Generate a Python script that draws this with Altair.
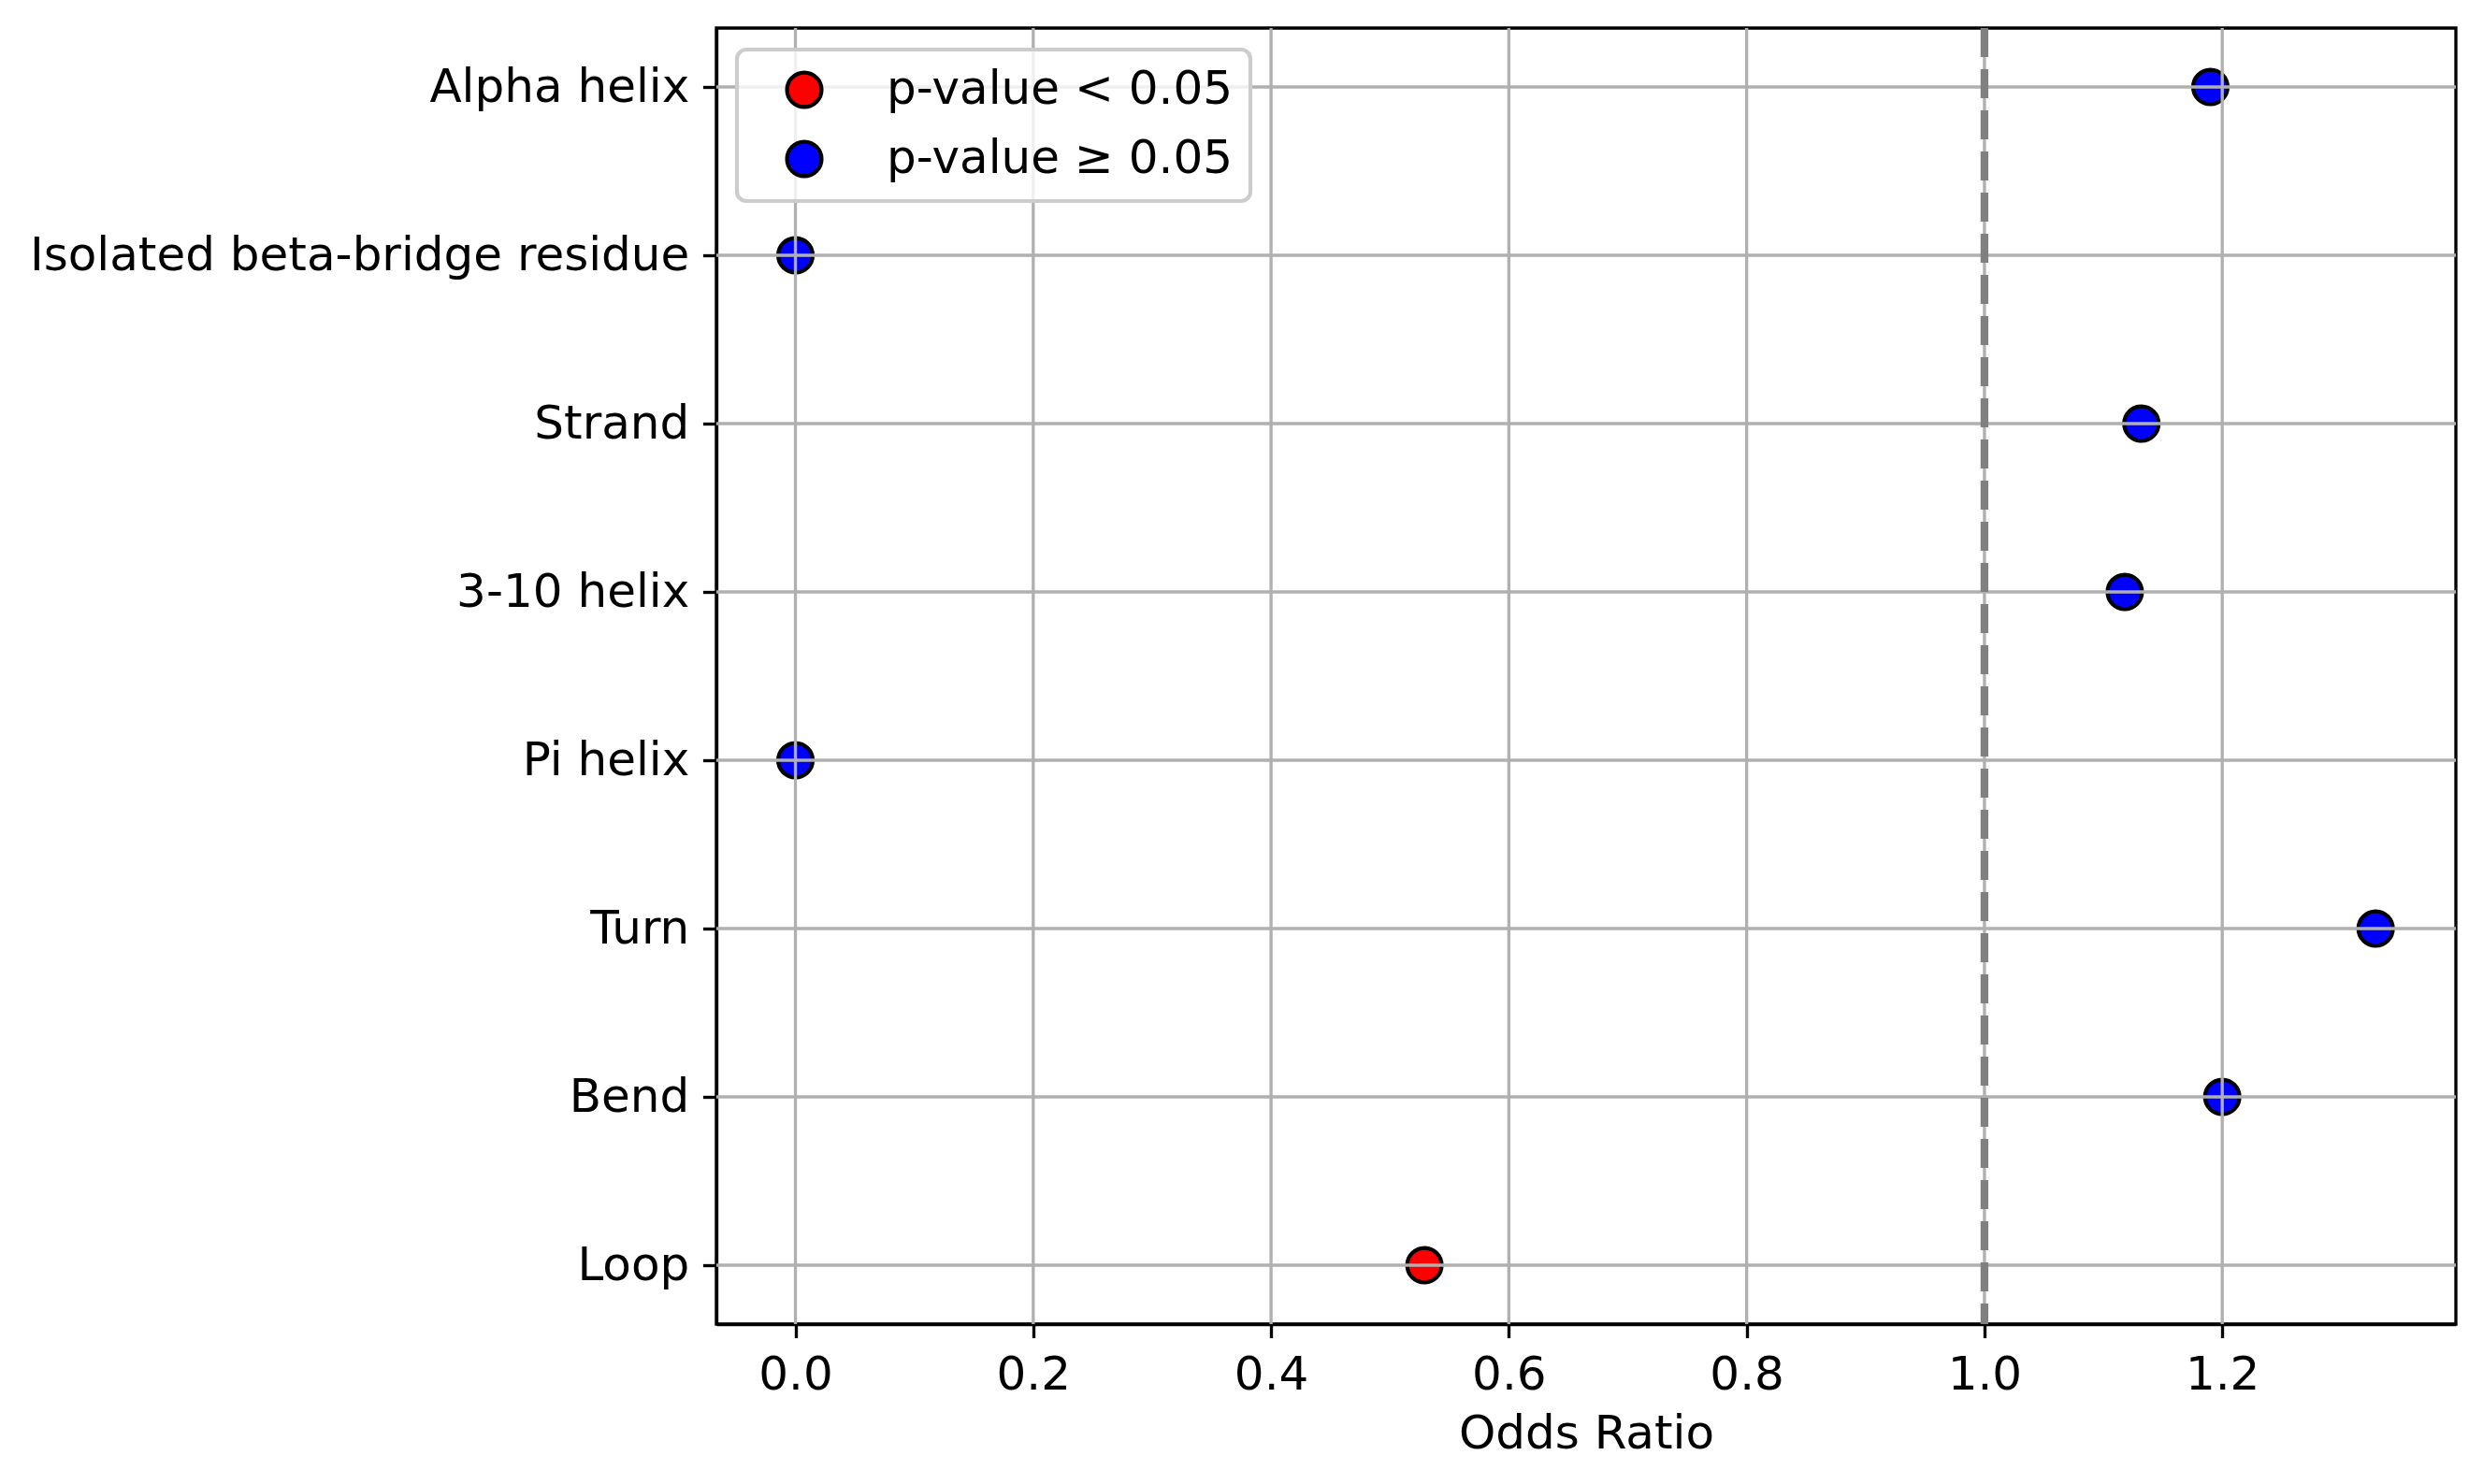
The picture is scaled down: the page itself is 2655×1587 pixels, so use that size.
import altair as alt
import pandas as pd

categories = ["Alpha helix", "Isolated beta-bridge residue", "Strand", "3-10 helix",
              "Pi helix", "Turn", "Bend", "Loop"]
odds_ratio = [1.19, 0.0, 1.132, 1.118, 0.0, 1.329, 1.200, 0.529]
significance = ["p-value ≥ 0.05", "p-value ≥ 0.05", "p-value ≥ 0.05", "p-value ≥ 0.05",
                "p-value ≥ 0.05", "p-value ≥ 0.05", "p-value ≥ 0.05", "p-value < 0.05"]
legend_labels = ["p-value < 0.05", "p-value ≥ 0.05"]
legend_colors = ["#ff0000", "#0000ff"]
x_ticks = [0.0, 0.2, 0.4, 0.6, 0.8, 1.0, 1.2]
x_limits = [-0.0665, 1.3965]
reference_line = [1.0]

points_df = pd.DataFrame({"cat": categories, "odds": odds_ratio, "sig": significance})
xgrid_df = pd.DataFrame({"odds": x_ticks})
ygrid_df = pd.DataFrame({"cat": categories})
ref_df = pd.DataFrame({"odds": reference_line})

FS = 50
LW = 3.33

x_scale = alt.Scale(domain=x_limits, nice=False, zero=False)
x_axis = alt.Axis(values=x_ticks, format=".1f", title="Odds Ratio", grid=False,
                  tickSize=14.6, tickWidth=LW, tickColor="black", domainColor="black",
                  domainWidth=LW, labelPadding=14.6, labelFontSize=FS, labelColor="black",
                  titleFontSize=FS, titleFontWeight="normal", titleColor="black",
                  titlePadding=13, labelFlush=False)
y_scale = alt.Scale(type="point", padding=0.35)
y_axis = alt.Axis(title=None, grid=False, tickSize=14.6, tickWidth=LW, tickColor="black",
                  domainColor="black", domainWidth=LW, labelPadding=14.6, labelFontSize=FS,
                  labelColor="black", labelLimit=1000)

X = lambda: alt.X("odds:Q", scale=x_scale, axis=x_axis)
Y = lambda: alt.Y("cat:N", sort=categories, scale=y_scale, axis=y_axis)

points = alt.Chart(points_df).mark_point(
    shape="circle", filled=True, size=1363, stroke="black", strokeWidth=4.2, opacity=1
).encode(
    x=X(), y=Y(),
    color=alt.Color("sig:N", scale=alt.Scale(domain=legend_labels, range=legend_colors),
                    legend=alt.Legend(title=None, orient="none", legendX=22, legendY=23,
                                      labelFontSize=FS, labelColor="black", labelLimit=1000,
                                      symbolType="circle", symbolSize=1363,
                                      symbolStrokeColor="black", symbolStrokeWidth=4.2,
                                      symbolOpacity=1,
                                      padding=18, rowPadding=20, symbolOffset=29,
                                      labelOffset=63,
                                      fillColor="rgba(255,255,255,0.8)",
                                      strokeColor="#cccccc",
                                      cornerRadius=10, zindex=3))
)

hgrid = alt.Chart(ygrid_df).mark_rule(color="#b0b0b0", strokeWidth=LW).encode(y=Y())
vgrid = alt.Chart(xgrid_df).mark_rule(color="#b0b0b0", strokeWidth=LW).encode(x=X())
ref = alt.Chart(ref_df).mark_rule(color="#808080", strokeWidth=8.3,
                                  strokeDash=[31, 13]).encode(x=X())

chart = alt.layer(points, hgrid, vgrid, ref).properties(
    width=1860, height=1386,
    autosize=alt.AutoSizeParams(type="none"),
    padding={"left": 758, "top": 22, "right": 20, "bottom": 170},
).configure(font="DejaVu Sans").configure_view(
    stroke="black", strokeWidth=LW
).configure_legend(strokeWidth=4.2)

chart.save("out.html", embed_options={"renderer": "svg", "actions": False})
